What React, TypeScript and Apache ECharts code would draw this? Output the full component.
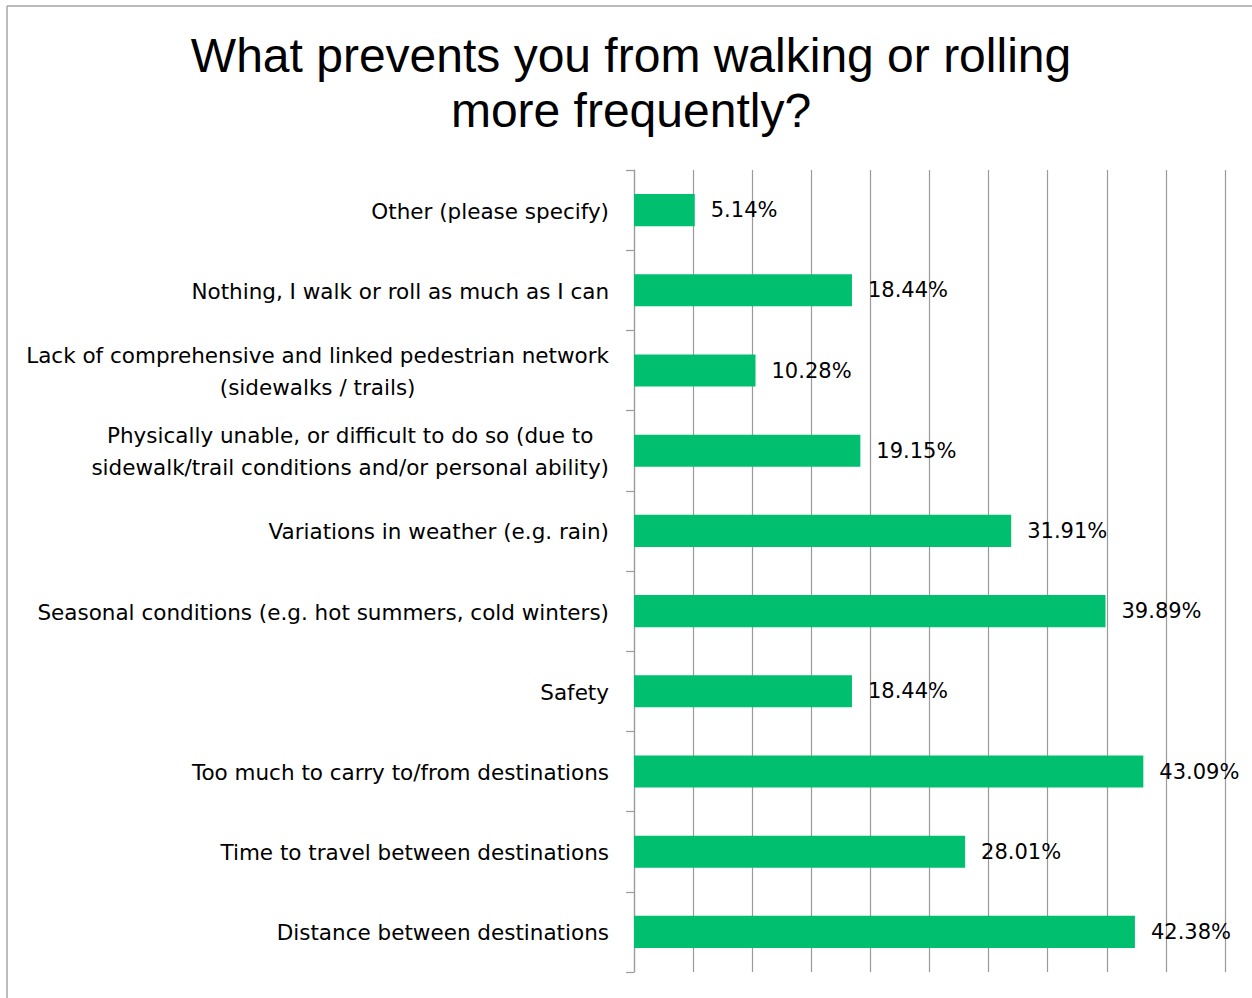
import React, { useEffect, useRef } from "react";
import * as echarts from "echarts";

const categories = [
  "Distance between destinations",
  "Time to travel between destinations",
  "Too much to carry to/from destinations",
  "Safety",
  "Seasonal conditions (e.g. hot summers, cold winters)",
  "Variations in weather (e.g. rain)",
  "Physically unable, or difficult to do so (due to\nsidewalk/trail conditions and/or personal ability)",
  "Lack of comprehensive and linked pedestrian network\n(sidewalks / trails)",
  "Nothing, I walk or roll as much as I can",
  "Other (please specify)",
];
const values = [42.38, 28.01, 43.09, 18.44, 39.89, 31.91, 19.15, 10.28, 18.44, 5.14];
const titleText = "What prevents you from walking or rolling\nmore frequently?";

const LABEL_FONT = "DejaVu Sans";

export default function App() {
  const ref = useRef<HTMLDivElement>(null);
  useEffect(() => {
    if (!ref.current) return;
    const chart = echarts.init(ref.current, null, { renderer: "svg" });
    chart.setOption({
      animation: false,
      backgroundColor: "#ffffff",
      title: {
        text: titleText,
        left: 626,
        textAlign: "center",
        top: 23,
        textStyle: {
          fontFamily: "Liberation Sans",
          fontSize: 48,
          fontWeight: "normal",
          color: "#000",
          lineHeight: 55,
        },
      },
      graphic: [
        { type: "line", shape: { x1: 7, y1: 6, x2: 1252, y2: 6 }, style: { stroke: "#a6a6a6", lineWidth: 1.5 } },
        { type: "line", shape: { x1: 7, y1: 6, x2: 7, y2: 998 }, style: { stroke: "#a6a6a6", lineWidth: 1.5 } },
      ],
      grid: { left: 634, right: 27, top: 170, bottom: 26, containLabel: false },
      xAxis: {
        type: "value",
        min: 0,
        max: 50,
        interval: 5,
        axisLine: { show: false },
        axisTick: { show: false },
        axisLabel: { show: false },
        splitLine: { show: true, lineStyle: { color: "#9a9a9a", width: 1.2 } },
      },
      yAxis: {
        type: "category",
        data: categories,
        axisLine: { show: true, lineStyle: { color: "#9a9a9a", width: 1.2 } },
        axisTick: { show: true, length: 8, lineStyle: { color: "#9a9a9a", width: 1.2 } },
        axisLabel: {
          margin: 25,
          fontFamily: LABEL_FONT,
          fontSize: 21.5,
          color: "#000",
          lineHeight: 32,
          formatter: (v: string) => v.split("\n").map((l) => `{c|${l}}`).join("\n"),
          rich: { c: { align: "center", fontFamily: LABEL_FONT, fontSize: 21.5, lineHeight: 32, color: "#000", padding: [2, 0, 0, 0] } },
        },
      },
      series: [
        {
          type: "bar",
          data: values,
          barWidth: "40%",
          itemStyle: { color: "#00BF6F" },
          label: {
            show: true,
            position: "right",
            distance: 16,
            formatter: (p: any) => `${p.value.toFixed(2)}%`,
            fontFamily: LABEL_FONT,
            fontSize: 21,
            color: "#000",
            padding: [2, 0, 0, 0],
          },
        },
      ],
    });
    return () => chart.dispose();
  }, []);
  return (
    <div
      ref={ref}
      style={{ position: "absolute", left: 0, top: 0, width: 1252, height: 998 }}
    />
  );
}
